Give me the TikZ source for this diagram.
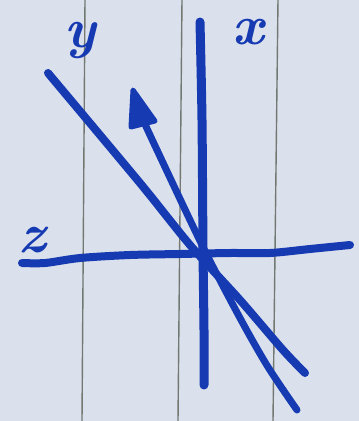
\documentclass[tikz,border=0pt]{standalone}
\usetikzlibrary{arrows.meta}
\definecolor{paper}{RGB}{218,224,236}
\definecolor{rule}{RGB}{115,120,112}
\definecolor{ink}{RGB}{22,58,178}
\tikzset{
  inkline/.style={draw=ink, line width=8pt, line cap=round, line join=round},
  ruleline/.style={draw=rule, line width=1.4pt},
  axislabel/.style={text=ink, font=\fontsize{56}{56}\selectfont\bfseries\itshape, inner sep=0pt}
}
\begin{document}
\begin{tikzpicture}[x=1pt,y=-1pt]
\useasboundingbox (0,0) rectangle (359,421);
\fill[paper] (0,0) rectangle (359,421);
% ruled paper lines
\draw[ruleline] (85,0) -- (82,421);
\draw[ruleline] (182,0) -- (178,421);
\draw[ruleline] (278,0) -- (273,421);
% coordinates
\coordinate (vtop) at (200,22);
\coordinate (vbot) at (204,385);
\coordinate (hleft) at (22,263);
\coordinate (hright) at (350,245);
\coordinate (dtop) at (48,73);
\coordinate (dbot) at (305,373);
\coordinate (atip) at (133,90);
\coordinate (abl) at (131,127);
\coordinate (abr) at (155,121);
\coordinate (ashaft) at (144,122);
\coordinate (abot) at (297,410);
% vertical axis
\draw[inkline, line width=9pt] plot[smooth] coordinates {(vtop) (202,120) (203,250) (204,330) (vbot)};
% horizontal axis (wavy)
\draw[inkline] plot[smooth] coordinates {(hleft) (45,263) (80,258) (130,255) (180,254) (230,253) (270,253) (310,249) (hright)};
% long diagonal
\draw[inkline] plot[smooth] coordinates {(dtop) (140,183) (190,245) (240,300) (283,350) (dbot)};
% arrow line
\draw[inkline, line width=7pt] plot[smooth] coordinates {(ashaft) (157,150) (203,247) (240,318) (268,367) (abot)};
\filldraw[ink, line width=5pt, line join=round] (atip) -- (abl) -- (abr) -- cycle;
% labels
\node[axislabel] (ly) at (80,40) {y};
\node[axislabel] (lx) at (248,32) {x};
\node[axislabel] (lz) at (32,240) {z};
\end{tikzpicture}
\end{document}
